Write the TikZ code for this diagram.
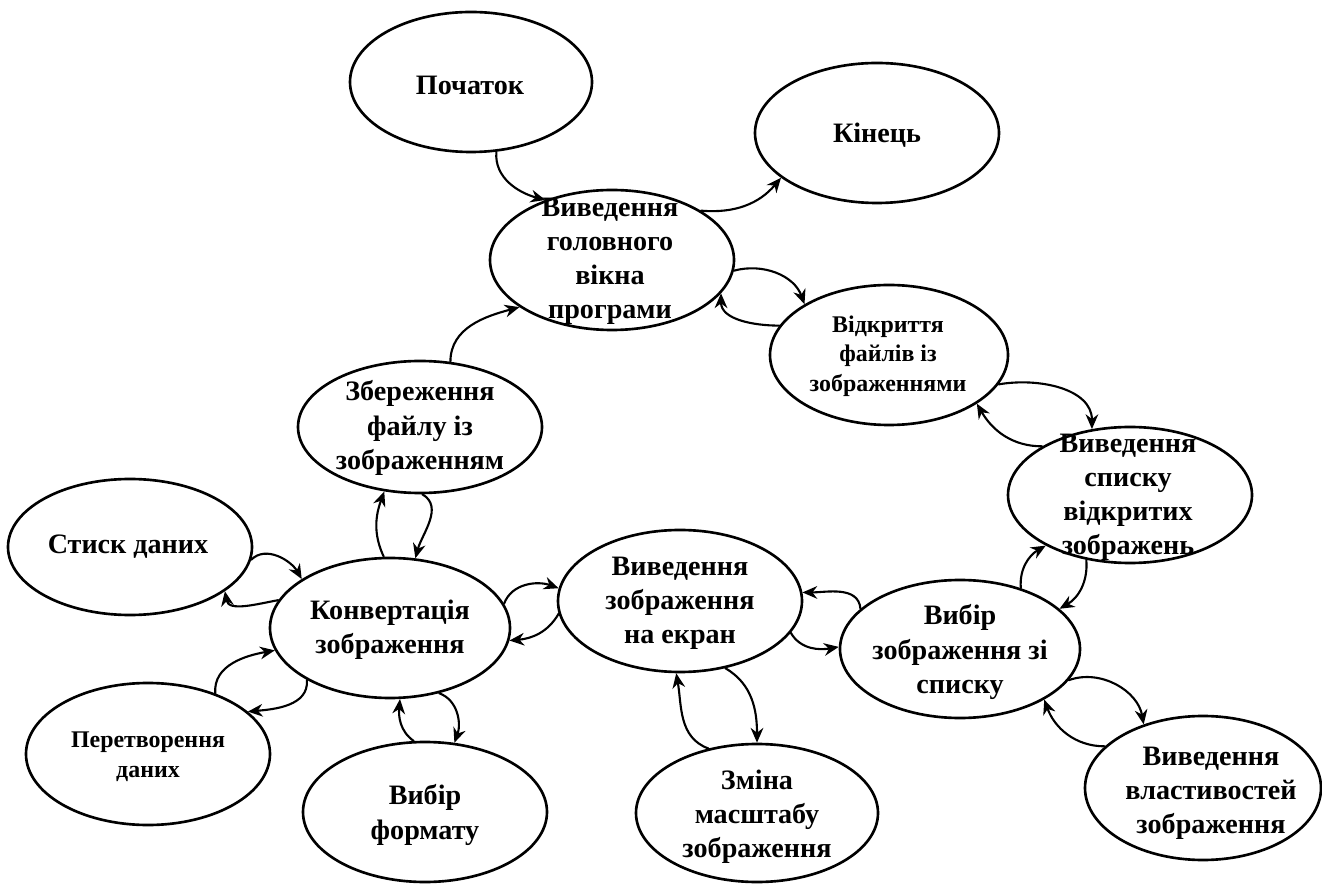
\documentclass[tikz,border=0pt]{standalone}
\usepackage{fontspec}
\setmainfont{Liberation Serif}
\usetikzlibrary{arrows.meta}
\usetikzlibrary{shapes.geometric}
\tikzstyle{oval} = [ellipse, draw, line width=0.75pt, inner sep=0pt]
\tikzstyle{bigtext} = [align=center, inner sep=0pt, font=\fontsize{8}{9.7}\selectfont\bfseries]
\tikzstyle{smalltext} = [align=center, inner sep=0pt, font=\fontsize{6.8}{8.4}\selectfont\bfseries]
\tikzstyle{flow} = [->, line width=0.6pt]

\begin{document}
\begin{tikzpicture}[line cap=round, line join=round, >={Stealth[length=4.2pt,width=3.6pt]}]
      \useasboundingbox (0,0) rectangle (13.22,8.83);
      \node[oval, minimum width=2.42cm, minimum height=1.40cm] (start) at (4.71,8.01) {};
      \node[oval, minimum width=2.44cm, minimum height=1.40cm] (end) at (8.77,7.50) {};
      \node[oval, minimum width=2.44cm, minimum height=1.40cm] (main) at (6.12,6.23) {};
      \node[oval, minimum width=2.38cm, minimum height=1.40cm] (open) at (8.89,5.28) {};
      \node[oval, minimum width=2.44cm, minimum height=1.36cm] (list) at (11.30,3.88) {};
      \node[oval, minimum width=2.44cm, minimum height=1.32cm] (save) at (4.20,4.56) {};
      \node[oval, minimum width=2.44cm, minimum height=1.36cm] (compress) at (1.30,3.36) {};
      \node[oval, minimum width=2.40cm, minimum height=1.40cm] (conv) at (3.90,2.55) {};
      \node[oval, minimum width=2.44cm, minimum height=1.42cm] (showimg) at (6.80,2.82) {};
      \node[oval, minimum width=2.40cm, minimum height=1.38cm] (select) at (9.60,2.34) {};
      \node[oval, minimum width=2.44cm, minimum height=1.42cm] (transform) at (1.48,1.29) {};
      \node[oval, minimum width=2.44cm, minimum height=1.40cm] (format) at (4.25,0.71) {};
      \node[oval, minimum width=2.42cm, minimum height=1.38cm] (zoomimg) at (7.57,0.70) {};
      \node[oval, minimum width=2.36cm, minimum height=1.44cm] (props) at (12.03,0.95) {};

      \node[bigtext] (startT) at (4.70,7.98) {Початок};
      \node[bigtext] (endT) at (8.77,7.48) {Кінець};
      \node[bigtext] (mainT) at (6.10,6.22) {Виведення\\головного\\вікна\\програми};
      \node[smalltext] (openT) at (8.88,5.27) {Відкриття\\файлів із\\зображеннями};
      \node[bigtext] (listT) at (11.28,3.86) {Виведення\\списку\\відкритих\\зображень};
      \node[bigtext] (saveT) at (4.20,4.55) {Збереження\\файлу із\\зображенням};
      \node[bigtext] (compressT) at (1.28,3.36) {Стиск даних};
      \node[bigtext] (convT) at (3.90,2.53) {Конвертація\\зображення};
      \node[bigtext] (showimgT) at (6.80,2.80) {Виведення\\зображення\\на екран};
      \node[bigtext] (selectT) at (9.60,2.31) {Вибір\\зображення зі\\списку};
      \node[smalltext] (transformT) at (1.48,1.26) {Перетворення\\даних};
      \node[bigtext] (formatT) at (4.25,0.68) {Вибір\\формату};
      \node[bigtext] (zoomimgT) at (7.57,0.66) {Зміна\\масштабу\\зображення};
      \node[bigtext] (propsT) at (12.11,0.90) {Виведення\\властивостей\\зображення};

      \draw[flow] (start.-70) to[out=-95,in=165] (main.138);
      \draw[flow] (main.29) to[out=-5,in=230] (end.205);
      \draw[flow] (save.65) to[out=90,in=195] (main.207);
      \draw[flow] (main.-5) to[out=15,in=110] (open.149);
      \draw[flow] (open.165) to[out=180,in=-90] (main.-17);
      \draw[flow] (open.-15) to[out=10,in=90] (list.120);
      \draw[flow] (list.151) to[out=180,in=-60] (open.-29);
      \draw[flow] (conv.95) to[out=115,in=-110] (save.241);
      \draw[flow] (save.-88) to[out=-30,in=75] (conv.70);
      \draw[flow] (compress.-6) to[out=45,in=120] (conv.151);
      \draw[flow] (conv.166) to[out=190,in=-80] (compress.-25);
      \draw[flow] (transform.42) to[out=95,in=190] (conv.191);
      \draw[flow] (conv.212) to[out=-85,in=5] (transform.23);
      \draw[flow] (format.99) to[out=145,in=-95] (conv.-82);
      \draw[flow] (conv.-53) to[out=-20,in=70] (format.67);
      \draw[flow] (conv.12) to[out=70,in=160] (showimg.174);
      \draw[flow] (showimg.186) to[out=-120,in=5] (conv.-6);
      \draw[flow] (select.158) to[out=95,in=0] (showimg.4);
      \draw[flow] (showimg.-16) to[out=-60,in=190] (select.179);
      \draw[flow] (select.45) to[out=95,in=-150] (list.211);
      \draw[flow] (list.236) to[out=-85,in=30] (select.22);
      \draw[flow] (select.-16) to[out=20,in=100] (props.133);
      \draw[flow] (props.157) to[out=180,in=-70] (select.-31);
      \draw[flow] (showimg.-56) to[out=-30,in=90] (zoomimg.90);
      \draw[flow] (zoomimg.127) to[out=160,in=-80] (showimg.-93);
    \end{tikzpicture}
\end{document}
